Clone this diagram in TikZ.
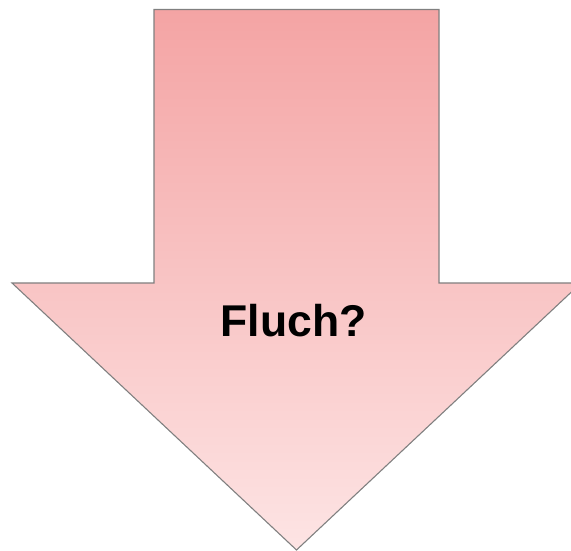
\documentclass[tikz,border=0pt]{standalone}
\usepackage{fontspec}
\setmainfont{Liberation Sans}
\definecolor{arrtop}{RGB}{244,164,164}
\definecolor{arrbot}{RGB}{253,228,228}
\definecolor{arredge}{RGB}{128,128,128}
\tikzset{
  bigarrow/.style={draw=arredge, line width=1.1pt, line join=miter, top color=arrtop, bottom color=arrbot},
  label/.style={font=\fontsize{44.5}{50}\selectfont\bfseries, text=black, inner sep=0pt}
}
\begin{document}
\begin{tikzpicture}[x=1pt,y=1pt]
\useasboundingbox (0,0) rectangle (571,551);
\clip (0,0) rectangle (571,551);
\path[bigarrow] (154,541.5) -- (439,541.5) -- (439,268) -- (581,268) -- (296.5,1) -- (12,268) -- (154,268) -- cycle;
\node[label, anchor=base] (t) at (293.5,214) {Fluch?};
\end{tikzpicture}
\end{document}
